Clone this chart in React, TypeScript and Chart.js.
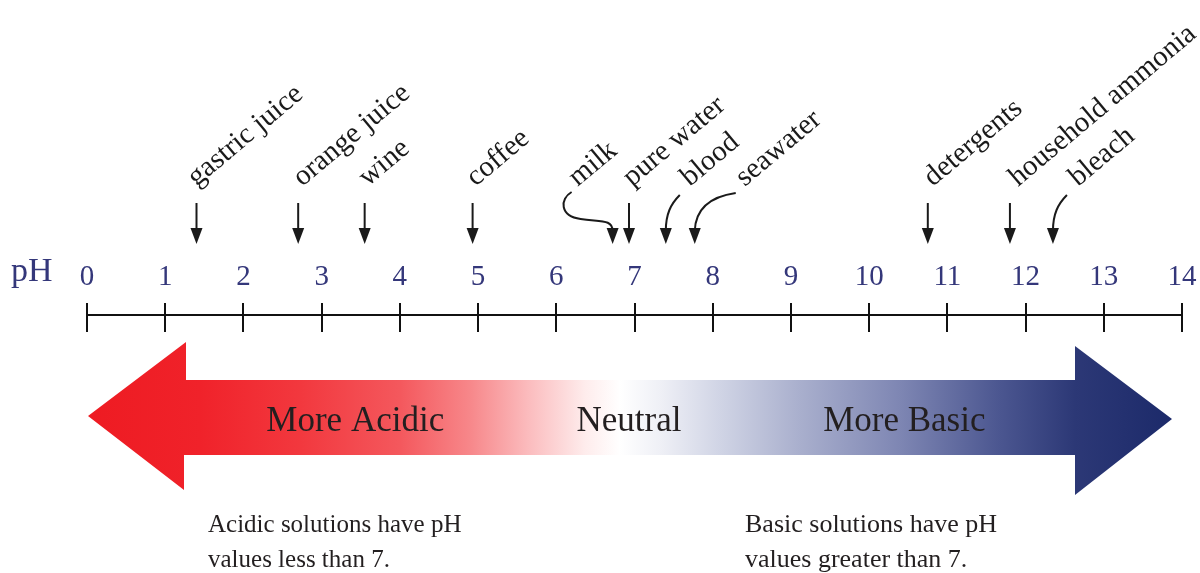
import React, { useEffect, useRef } from 'react';
import { Chart, registerables } from 'chart.js';

Chart.register(...registerables);

// ---- data ----
const phTicks = [0, 1, 2, 3, 4, 5, 6, 7, 8, 9, 10, 11, 12, 13, 14];
const substances = [
  'gastric juice',
  'orange juice',
  'wine',
  'coffee',
  'milk',
  'pure water',
  'blood',
  'seawater',
  'detergents',
  'household ammonia',
  'bleach',
];
const substancePH = [1.4, 2.7, 3.55, 4.93, 6.72, 6.93, 7.4, 7.77, 10.75, 11.8, 12.35];
const bandLabels = ['More Acidic', 'Neutral', 'More Basic'];
const bandLabelPH = [3.43, 6.93, 10.45];
const acidicNote = ['Acidic solutions have pH', 'values less than 7.'];
const basicNote = ['Basic solutions have pH', 'values greater than 7.'];

// ---- layout / style (not data) ----
const SERIF = '"Liberation Serif", "DejaVu Serif", serif';
const NAVY = '#34377a';
const INK = '#1a1a1a';
// arrow style per substance
const arrowStyle = ['s', 's', 's', 's', 'hook', 's', 'near', 'far', 's', 's', 'near'];
const labelDX = [0, 4, 3, 3, -35, 3, 24, 50, 5, 8, 25];

const W = 1200;
const H = 573;

const drawPlugin = {
  id: 'phDecor',
  beforeDraw(chart: any) {
    const ctx = chart.ctx;
    ctx.save();
    ctx.fillStyle = '#ffffff';
    ctx.fillRect(0, 0, chart.width, chart.height);
    ctx.restore();
  },
  afterDraw(chart: any) {
    const ctx: CanvasRenderingContext2D = chart.ctx;
    const xs = chart.scales.x;
    const px = (v: number) => xs.getPixelForValue(v);

    ctx.save();

    // "pH" axis name
    ctx.fillStyle = NAVY;
    ctx.font = `34px ${SERIF}`;
    ctx.textAlign = 'left';
    ctx.textBaseline = 'alphabetic';
    ctx.fillText('pH', 11, 281);

    // substance arrows
    ctx.strokeStyle = INK;
    ctx.fillStyle = INK;
    ctx.lineWidth = 2;
    substancePH.forEach((v, i) => {
      const x = px(v);
      const st = arrowStyle[i];
      ctx.beginPath();
      if (st === 's') {
        ctx.moveTo(x, 203);
        ctx.lineTo(x, 231);
      } else if (st === 'hook') {
        ctx.moveTo(x - 41, 192);
        ctx.bezierCurveTo(x - 53, 199, x - 53, 216, x - 32, 219);
        ctx.bezierCurveTo(x - 12, 222, x, 219, x, 231);
      } else if (st === 'near') {
        ctx.moveTo(x + 14, 195);
        ctx.bezierCurveTo(x + 5, 204, x, 214, x, 231);
      } else if (st === 'far') {
        ctx.moveTo(x + 41, 193);
        ctx.bezierCurveTo(x + 20, 196, x + 1, 205, x, 231);
      }
      ctx.stroke();
      ctx.beginPath();
      ctx.moveTo(x - 6, 228);
      ctx.lineTo(x + 6, 228);
      ctx.lineTo(x, 244);
      ctx.closePath();
      ctx.fill();
    });

    // rotated labels
    ctx.font = `29px ${SERIF}`;
    ctx.fillStyle = INK;
    ctx.textAlign = 'left';
    ctx.textBaseline = 'alphabetic';
    substances.forEach((s, i) => {
      const x = px(substancePH[i]) + labelDX[i];
      ctx.save();
      ctx.translate(x, 187);
      ctx.rotate((-40 * Math.PI) / 180);
      ctx.fillText(s, 0, 0);
      ctx.restore();
    });

    // big gradient double arrow
    const L = px(0) + 1;
    const R = px(14) - 10;
    const g = ctx.createLinearGradient(L, 0, R, 0);
    const stops: [number, string][] = [
      [88, '#ee1b22'],
      [200, '#f0222a'],
      [300, '#f2383e'],
      [400, '#f4585d'],
      [470, '#f7878a'],
      [530, '#fbbdbf'],
      [585, '#feecec'],
      [620, '#ffffff'],
      [660, '#eff0f6'],
      [720, '#d0d4e5'],
      [800, '#a9afcd'],
      [900, '#7e86b3'],
      [1000, '#4b5690'],
      [1075, '#2c3876'],
      [1172, '#1c2a6a'],
    ];
    stops.forEach(([sx, c]) => g.addColorStop(Math.min(1, Math.max(0, (sx - L) / (R - L))), c));
    ctx.fillStyle = g;
    ctx.beginPath();
    ctx.moveTo(L, 416);
    ctx.lineTo(186, 342);
    ctx.lineTo(186, 380);
    ctx.lineTo(1075, 380);
    ctx.lineTo(1075, 346);
    ctx.lineTo(R, 419);
    ctx.lineTo(1075, 495);
    ctx.lineTo(1075, 455);
    ctx.lineTo(184, 455);
    ctx.lineTo(184, 490);
    ctx.closePath();
    ctx.fill();

    // band labels
    ctx.font = `35px ${SERIF}`;
    ctx.fillStyle = '#231f20';
    ctx.textAlign = 'center';
    bandLabels.forEach((t, i) => {
      ctx.fillText(t, px(bandLabelPH[i]), 431);
    });

    // notes
    ctx.textAlign = 'left';
    ctx.font = `25px ${SERIF}`;
    acidicNote.forEach((t, i) => ctx.fillText(t, 208, 532 + i * 35));
    ctx.font = `26px ${SERIF}`;
    basicNote.forEach((t, i) => ctx.fillText(t, 745, 532 + i * 35));

    ctx.restore();
  },
};

export default function App() {
  const ref = useRef<HTMLCanvasElement | null>(null);

  useEffect(() => {
    if (!ref.current) return;
    const chart = new Chart(ref.current, {
      type: 'scatter',
      data: { datasets: [] },
      options: {
        animation: false,
        responsive: false,
        devicePixelRatio: 1,
        layout: { padding: { left: 87, right: 18, top: 0, bottom: H - 332 } },
        plugins: { legend: { display: false }, tooltip: { enabled: false }, title: { display: false } },
        scales: {
          x: {
            type: 'linear',
            position: 'top',
            min: 0,
            max: 14,
            afterBuildTicks: (scale: any) => {
              scale.ticks = phTicks.map((v) => ({ value: v }));
            },
            afterFit: (scale: any) => {
              scale.height = 315;
              scale.paddingLeft = 0;
              scale.paddingRight = 0;
            },
            ticks: {
              autoSkip: false,
              maxRotation: 0,
              color: NAVY,
              padding: 8,
              font: { family: SERIF, size: 29 },
              callback: (v: any) => String(v),
            },
            grid: {
              drawOnChartArea: true,
              drawTicks: true,
              tickLength: 12,
              color: '#111111',
              lineWidth: 2,
            },
            border: { display: true, color: '#111111', width: 2 },
          },
          y: { display: false, min: 0, max: 1 },
        },
      },
      plugins: [drawPlugin],
    } as any);
    return () => chart.destroy();
  }, []);

  return (
    <div style={{ position: 'fixed', left: 0, top: 0, width: W, height: H, background: '#fff' }}>
      <canvas ref={ref} width={W} height={H} style={{ display: 'block', width: W, height: H }} />
    </div>
  );
}
